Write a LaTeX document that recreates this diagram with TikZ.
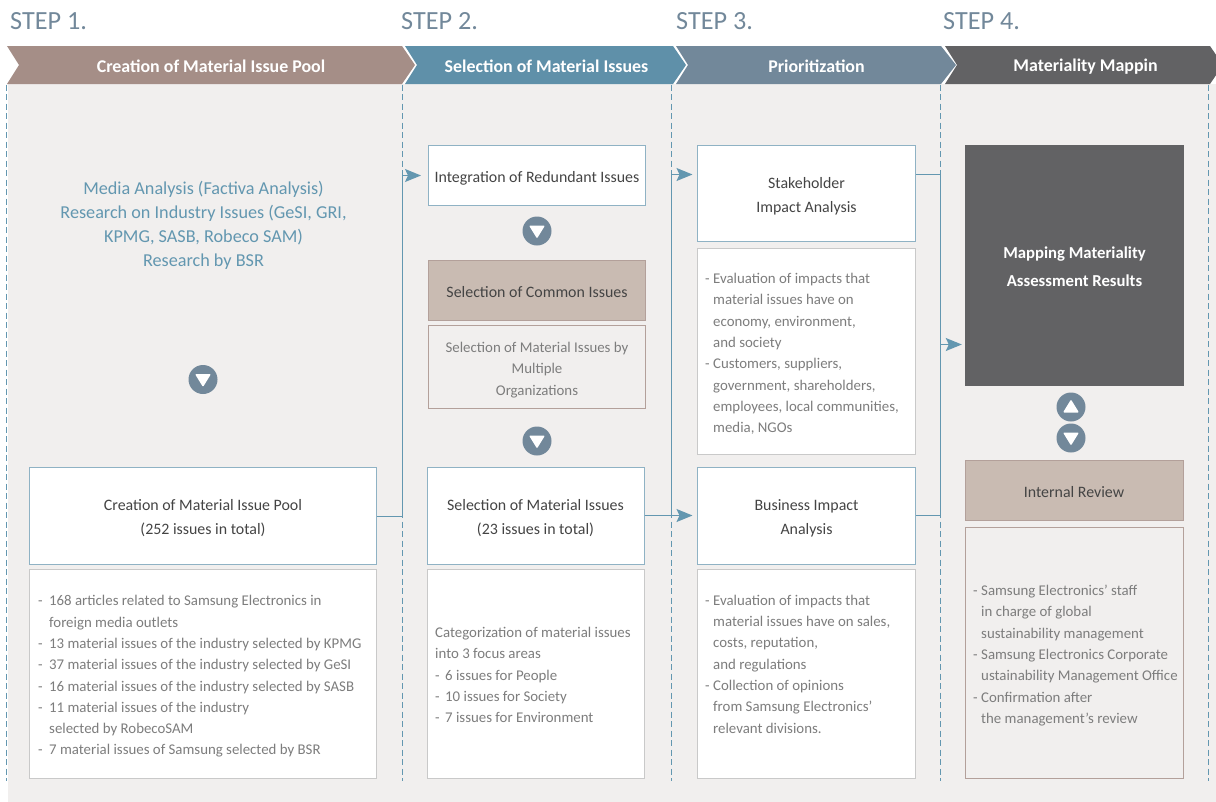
\documentclass[tikz,border=0pt]{standalone}
\usepackage{fontspec}
\setmainfont{Carlito}
\usetikzlibrary{arrows.meta,positioning}
\definecolor{pagegrey}{HTML}{F1EFEE}
\definecolor{tanbar}{HTML}{A58E87}
\definecolor{bluebar}{HTML}{5F90A9}
\definecolor{slatebar}{HTML}{72889A}
\definecolor{darkbar}{HTML}{626264}
\definecolor{linkblue}{HTML}{6397B0}
\definecolor{bluedge}{HTML}{8FB2C4}
\definecolor{greyedge}{HTML}{C9C9C9}
\definecolor{tanedge}{HTML}{B3A09A}
\definecolor{tanfill}{HTML}{C9BBB2}
\definecolor{inktext}{HTML}{444444}
\definecolor{softtext}{HTML}{7D7D7D}
\newcommand{\li}[1][8pt]{\makebox[#1][l]{-}}
\newcommand{\cont}[1][8pt]{\hspace*{#1}}
\newcommand{\lift}[1][16.5pt]{\rule{0pt}{#1}}
\tikzset{
    x=1pt,
    y=-1pt,
    banner/.style={
        text=white,
        font=\fontsize{17.9}{20}\selectfont\bfseries,
    },
    steptitle/.style={
        anchor=west,
        inner sep=0pt,
        text=slatebar,
        font=\fontsize{26.2}{28}\selectfont,
    },
    box/.style={
        rectangle,
        draw=bluedge,
        fill=white,
        line width=1pt,
        align=center,
        text=inktext,
        font=\fontsize{15.9}{24}\selectfont,
    },
    notebox/.style={
        rectangle,
        draw=greyedge,
        fill=white,
        line width=1pt,
    },
    tanbox/.style={
        rectangle,
        draw=tanedge,
        fill=tanfill,
        line width=1pt,
        align=center,
        text=inktext,
        font=\fontsize{15.9}{24}\selectfont,
    },
    tannote/.style={
        rectangle,
        draw=tanedge,
        fill=pagegrey,
        line width=1pt,
        align=center,
        text=softtext,
        font=\fontsize{14.85}{21.3}\selectfont,
    },
    listtext/.style={
        align=left,
        inner sep=0pt,
        text=softtext,
        font=\fontsize{14.85}{21.3}\selectfont,
    },
    sepline/.style={
        draw=linkblue,
        line width=1pt,
        dash pattern=on 6pt off 3.5pt,
    },
    link/.style={
        draw=linkblue,
        line width=1.2pt,
    },
    linkarrow/.style={
        link,
        -{Stealth[length=16pt,width=13pt,inset=3pt]},
        shorten >=4.5pt,
    },
    dotdown/.style={
        circle,
        fill=slatebar,
        minimum size=29pt,
        inner sep=0pt,
        path picture={
            \fill[white,rounded corners=1pt,shift={(path picture bounding box.center)}]
                (-8,-5.5) -- (8,-5.5) -- (0,7.5) -- cycle;
        },
    },
    dotup/.style={
        circle,
        fill=slatebar,
        minimum size=29pt,
        inner sep=0pt,
        path picture={
            \fill[white,rounded corners=1pt,shift={(path picture bounding box.center)}]
                (-8,5.5) -- (8,5.5) -- (0,-7.5) -- cycle;
        },
    },
}
\begin{document}
\begin{tikzpicture}
    \useasboundingbox (-0.5,-0.5) rectangle (1215.5,800.5);
    \fill[pagegrey] (7.5,83.5) rectangle (1216,801);

    % banners
    \fill[tanbar] (6.5,45.5) -- (401.5,45.5) -- (414.5,64.5) -- (401.5,83.5) -- (6.5,83.5) -- (18.5,64.5) -- cycle;
    \fill[bluebar] (404.5,45.5) -- (672.5,45.5) -- (685.5,64.5) -- (672.5,83.5) -- (404.5,83.5) -- (416.5,64.5) -- cycle;
    \fill[slatebar] (675.5,45.5) -- (940.5,45.5) -- (955.5,64.5) -- (940.5,83.5) -- (675.5,83.5) -- (687.5,64.5) -- cycle;
    \fill[darkbar] (944.5,45.5) -- (1209.5,45.5) -- (1222.5,64.5) -- (1209.5,83.5) -- (944.5,83.5) -- (956.5,64.5) -- cycle;

    \node [steptitle] (step1) at (9.5,21) {STEP 1.};
    \node [steptitle] (step2) at (400.5,21) {STEP 2.};
    \node [steptitle] (step3) at (675.5,21) {STEP 3.};
    \node [steptitle] (step4) at (942.5,21) {STEP 4.};

    \node [banner] (bar1) at (210.5,66) {Creation of Material Issue Pool};
    \node [banner] (bar2) at (546,66) {Selection of Material Issues};
    \node [banner] (bar3) at (816,66) {Prioritization};
    \node [banner] (bar4) at (1085,66) {Materiality Mappin};

    % column separators
    \foreach \sx in {6,402,671,940,1208}
        \draw[sepline] (\sx,84) -- (\sx,780);

    % step 1
    \node [align=center, text=linkblue, font=\fontsize{18.2}{24}\selectfont] (sources) at (203,225) {Media Analysis (Factiva Analysis)\\Research on Industry Issues (GeSI, GRI,\\KPMG, SASB, Robeco SAM)\\Research by BSR};
    \node [dotdown] (dot1) at (202.5,379) {};
    \node [box, minimum width=347pt, minimum height=97pt] (pool) at (202.5,515) {\lift Creation of Material Issue Pool\\(252 issues in total)};
    \node [notebox, minimum width=347pt, minimum height=209pt] (poolnote) at (202.5,673.5) {};
    \node [listtext, right=9pt of poolnote.west, yshift=-2.5pt] (poolitems) {\li[11pt]168 articles related to Samsung Electronics in\\\cont[11pt]foreign media outlets\\\li[11pt]13 material issues of the industry selected by KPMG\\\li[11pt]37 material issues of the industry selected by GeSI\\\li[11pt]16 material issues of the industry selected by SASB\\\li[11pt]11 material issues of the industry\\\cont[11pt]selected by RobecoSAM\\\li[11pt]7 material issues of Samsung selected by BSR};

    % step 2
    \node [box, minimum width=217pt, minimum height=60pt] (integ) at (536.5,175) {\lift Integration of Redundant Issues};
    \node [dotdown] (dot2) at (536.5,230.5) {};
    \node [tanbox, minimum width=217pt, minimum height=60pt] (common) at (536.5,290) {\lift[13.5pt]Selection of Common Issues};
    \node [tannote, minimum width=217pt, minimum height=83pt] (multi) at (536.5,366.5) {\lift Selection of Material Issues by\\Multiple\\Organizations};
    \node [dotdown] (dot3) at (536.5,440.5) {};
    \node [box, minimum width=217pt, minimum height=97pt] (select) at (535,515) {\lift Selection of Material Issues\\(23 issues in total)};
    \node [notebox, minimum width=217pt, minimum height=209pt] (selnote) at (535,673.5) {};
    \node [listtext, right=8.5pt of selnote.west, yshift=-1pt] (selitems) {Categorization of material issues\\into 3 focus areas\\\li[10pt]6 issues for People\\\li[10pt]10 issues for Society\\\li[10pt]7 issues for Environment};

    % step 3
    \node [box, minimum width=218pt, minimum height=96pt] (stake) at (806,193) {\lift Stakeholder\\Impact Analysis};
    \node [notebox, minimum width=218pt, minimum height=206pt] (stakenote) at (806,351) {};
    \node [listtext, right=8pt of stakenote.west, yshift=-2.5pt] (stakeitems) {\li Evaluation of impacts that\\\cont material issues have on\\\cont economy, environment,\\\cont and society\\\li Customers, suppliers,\\\cont government, shareholders,\\\cont employees, local communities,\\\cont media, NGOs};
    \node [box, minimum width=218pt, minimum height=97pt] (biz) at (806,515) {\lift Business Impact\\Analysis};
    \node [notebox, minimum width=218pt, minimum height=209pt] (biznote) at (806,673.5) {};
    \node [listtext, right=8pt of biznote.west, yshift=10pt] (bizitems) {\li Evaluation of impacts that\\\cont material issues have on sales,\\\cont costs, reputation,\\\cont and regulations\\\li Collection of opinions\\\cont from Samsung Electronics'\\\cont relevant divisions.};

    % step 4
    \node [rectangle, fill=darkbar, text=white, align=center, minimum width=219pt, minimum height=241pt, font=\fontsize{16.7}{28}\selectfont\bfseries] (mapping) at (1074,265) {\lift[13.5pt]Mapping Materiality\\Assessment Results};
    \node [dotup] (dot4) at (1070.5,406.5) {};
    \node [dotdown] (dot5) at (1070.5,437.5) {};
    \node [tanbox, minimum width=218pt, minimum height=60pt] (review) at (1073.5,490) {\lift[13.5pt]Internal Review};
    \node [tannote, minimum width=218pt, minimum height=251pt] (revnote) at (1073.5,652.5) {};
    \node [listtext, right=8.5pt of revnote.west, yshift=-2.5pt] (revitems) {\li Samsung Electronics' staff\\\cont in charge of global\\\cont sustainability management\\\li Samsung Electronics Corporate\\\cont ustainability Management Office\\\li Confirmation after\\\cont the management's review};

    % connectors
    \coordinate (bus12) at (402,344);
    \coordinate (bus23) at (671,344);
    \coordinate (bus34) at (940,344);
    \draw[linkarrow, shorten >=7pt] ([yshift=-1pt]pool.east) -| (bus12) |- (integ.west);
    \draw[linkarrow] (select.east) -| (bus23) |- ([yshift=19pt]stake.west);
    \draw[linkarrow] (select.east) -- (biz.west);
    \draw[link] ([yshift=19pt]stake.east) -| (bus34) |- (biz.east);
    \draw[linkarrow, shorten >=3pt] (bus34) -- (mapping.west |- bus34);
\end{tikzpicture}
\end{document}
